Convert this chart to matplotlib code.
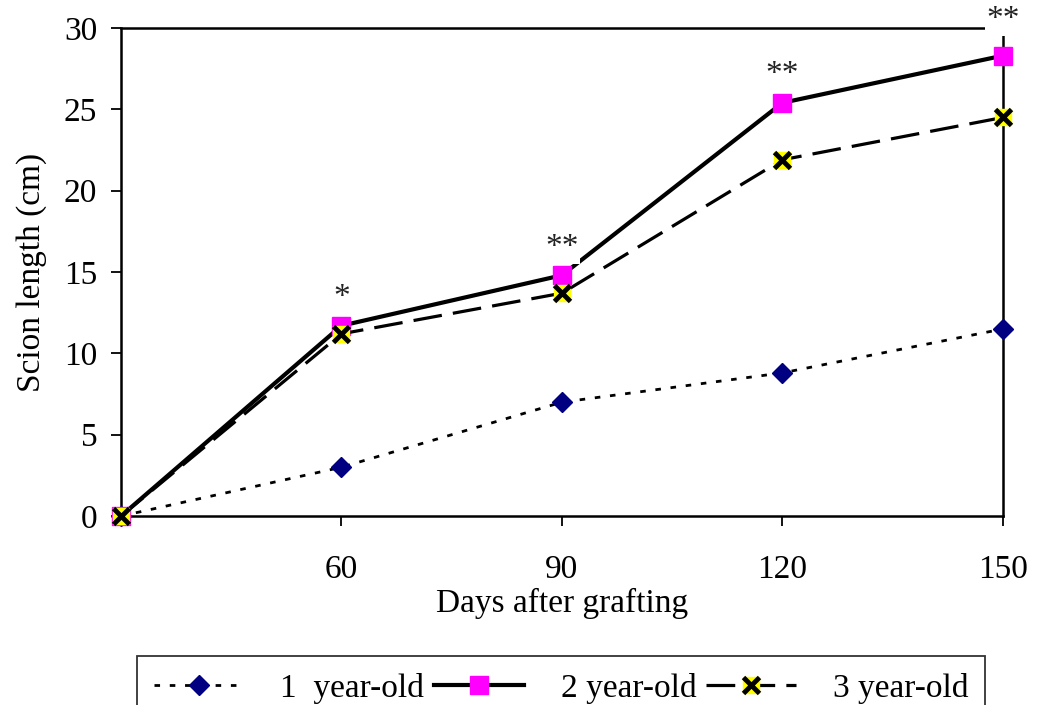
import matplotlib
matplotlib.use("Agg")
import matplotlib.pyplot as plt
from matplotlib.legend_handler import HandlerTuple

plt.rcParams["font.family"] = ["Liberation Serif", "DejaVu Serif"]

days = ["", "60", "90", "120", "150"]
one_year = [0, 3.0, 7.0, 8.8, 11.5]
two_year = [0, 11.7, 14.8, 25.4, 28.3]
three_year = [0, 11.2, 13.7, 21.9, 24.5]
signif = ["", "*", "**", "**", "**"]

x = list(range(len(days)))

fig = plt.figure(figsize=(10.4, 7.05), dpi=100)
ax = fig.add_axes([0.1163, 0.268, 0.848, 0.6923])

l1, = ax.plot(x, one_year, color="black", lw=2, dashes=(2, 3.5),
              marker="D", ms=10, mfc="#000080", mec="#000080", zorder=3, clip_on=False)
l2, = ax.plot(x, two_year, color="black", lw=3, ls="-",
              marker="s", ms=13, mfc="#FF00FF", mec="#FF00FF", zorder=4, clip_on=False)
l3, = ax.plot(x, three_year, color="black", lw=2.3, dashes=(9, 3.5),
              marker="s", ms=12, mfc="#FFFF00", mec="#FFFF00", zorder=5, clip_on=False)
l3x, = ax.plot(x, three_year, ls="none", marker="x", ms=11, mew=3.5,
               color="black", zorder=6, clip_on=False)

for i, s in enumerate(signif):
    if not s:
        continue
    off = 26 if i == len(signif) - 1 else 20
    ax.annotate(s, (x[i], two_year[i]), xytext=(0, off), textcoords="offset points",
                ha="center", va="center", fontsize=24, color="#222222",
                bbox=dict(fc="white", ec="none", pad=1), zorder=7,
                annotation_clip=False)

ax.set_xlim(0, 4)
ax.set_ylim(0, 30)
ax.set_xticks(x)
ax.set_xticklabels(days)
ax.set_yticks(range(0, 31, 5))
ax.tick_params(direction="out", length=7, width=1.3, labelsize=24)
ax.tick_params(axis="x", pad=21)
ax.tick_params(axis="y", pad=10)
for sp in ax.spines.values():
    sp.set_linewidth(1.8)
ax.set_xlabel("Days after grafting", fontsize=24, labelpad=2)
ax.set_ylabel("Scion length (cm)", fontsize=24, labelpad=12)

leg = fig.legend([l1, l2, (l3, l3x)], ["1  year-old", "2 year-old", "3 year-old"],
                 handler_map={tuple: HandlerTuple(ndivide=1)},
                 loc="upper left", bbox_to_anchor=(0.1317, 0.0695), borderaxespad=0,
                 ncol=3, fontsize=24, frameon=True, fancybox=False, handlelength=2.7,
                 columnspacing=0.3, handletextpad=1.1, borderpad=0.5)
leg.get_frame().set_edgecolor("black")
leg.get_frame().set_linewidth(1.3)

fig.savefig("out.png", dpi=100)
